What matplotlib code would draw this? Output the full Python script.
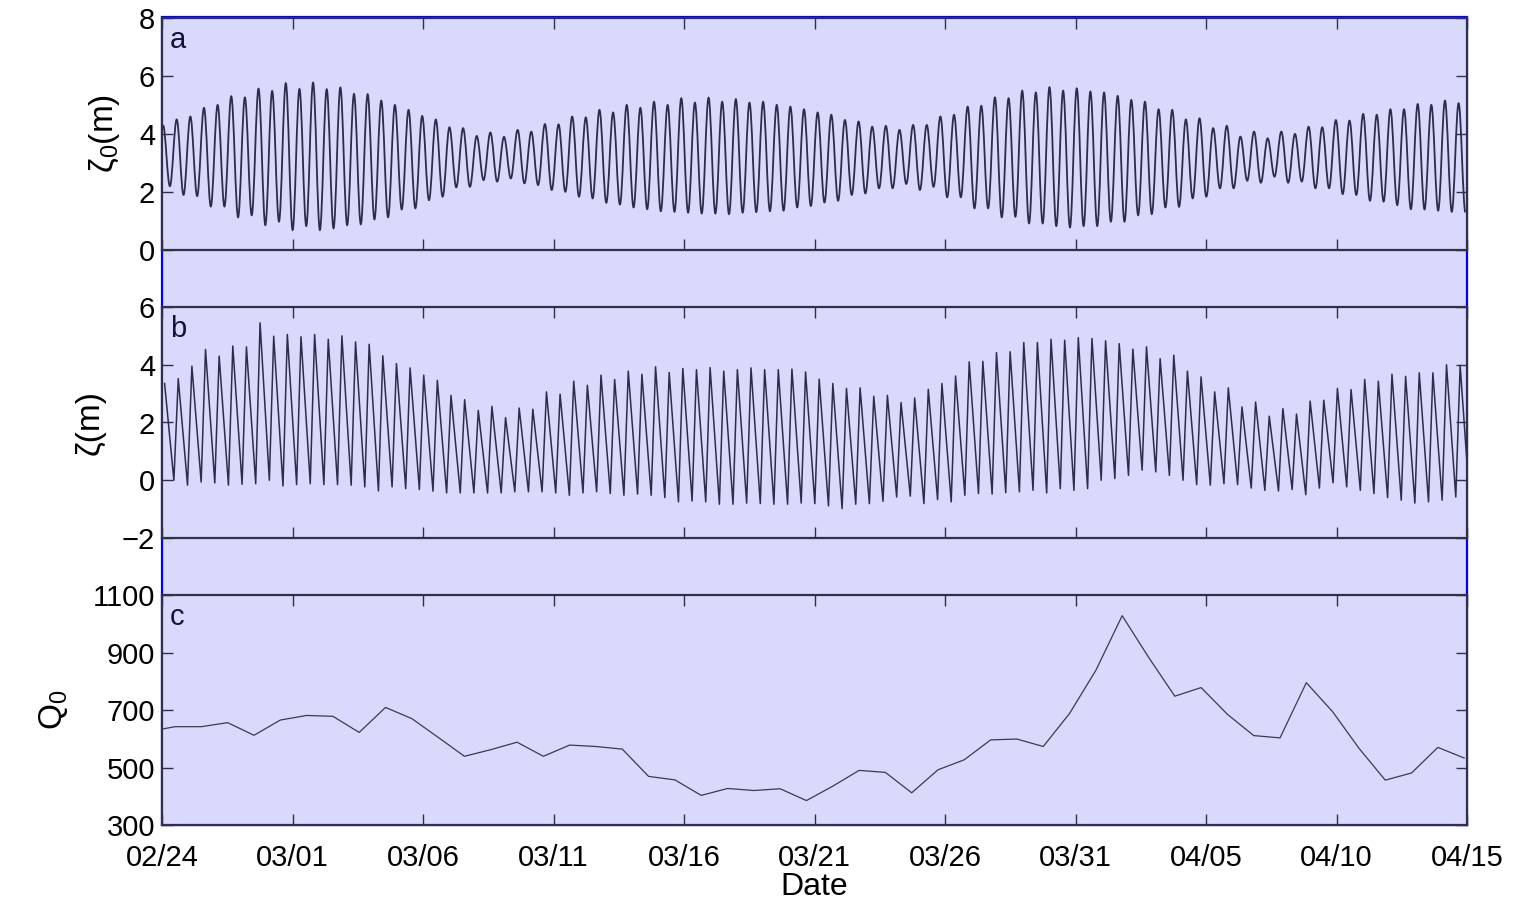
import matplotlib
matplotlib.use('Agg')
import matplotlib.pyplot as plt
from matplotlib.patches import Rectangle, PathPatch
from matplotlib.path import Path
import numpy as np

plt.rcParams['font.family'] = ['Liberation Sans', 'DejaVu Sans']
plt.rcParams['mathtext.fontset'] = 'custom'
plt.rcParams['mathtext.rm'] = 'Liberation Sans'
plt.rcParams['mathtext.it'] = 'Liberation Sans'

# x axis: days since 02/24
date_ticks = [0, 5, 10, 15, 20, 25, 30, 35, 40, 45, 50]
date_labels = ['02/24', '03/01', '03/06', '03/11', '03/16', '03/21',
               '03/26', '03/31', '04/05', '04/10', '04/15']

# tide at the mouth, zeta_0 (m): successive high and low waters
zeta0_high = [4.3,
              4.5, 4.6, 4.9, 5.0, 5.3, 5.26, 5.56, 5.48, 5.75, 5.55, 5.77, 5.54, 5.6, 5.38, 5.37, 5.15,
              5.0, 4.83, 4.62, 4.5, 4.23, 4.2, 3.93, 4.05, 3.9, 4.14, 4.08, 4.34, 4.33, 4.6, 4.57, 4.83,
              4.74, 5.0, 4.9, 5.11, 5.0, 5.23, 5.08, 5.25, 5.11, 5.2, 5.08, 5.11, 5.0, 4.94, 4.85, 4.74,
              4.66, 4.48, 4.43, 4.25, 4.28, 4.14, 4.31, 4.31, 4.6, 4.66, 4.94, 4.97, 5.26, 5.23, 5.49,
              5.43, 5.61, 5.49, 5.57, 5.46, 5.43, 5.31, 5.17, 5.11, 4.85, 4.83, 4.5, 4.54, 4.2, 4.28, 3.91,
              4.08, 3.85, 4.08, 4.0, 4.25, 4.23, 4.48, 4.46, 4.69, 4.66, 4.85, 4.85, 5.03, 5.0, 5.15, 5.06]
zeta0_low = [2.2, 1.9, 1.86, 1.5, 1.5, 1.13, 1.2, 0.86, 0.98, 0.69, 0.83, 0.69, 0.75, 0.86, 0.89, 1.06,
             1.13, 1.4, 1.44, 1.72, 1.84, 2.16, 2.18, 2.41, 2.36, 2.47, 2.3, 2.24, 2.07, 2.01, 1.84, 1.78,
             1.63, 1.57, 1.47, 1.41, 1.34, 1.32, 1.29, 1.26, 1.26, 1.24, 1.29, 1.31, 1.34, 1.36, 1.47, 1.52,
             1.64, 1.7, 1.9, 1.95, 2.13, 2.13, 2.28, 2.07, 2.18, 1.82, 1.82, 1.44, 1.44, 1.13, 1.15, 0.92,
             0.92, 0.83, 0.78, 0.83, 0.83, 0.98, 0.98, 1.2, 1.24, 1.47, 1.49, 1.78, 1.84, 2.13, 2.13, 2.39,
             2.32, 2.53, 2.32, 2.36, 2.13, 2.13, 1.93, 1.9, 1.7, 1.67, 1.55, 1.41, 1.4, 1.36, 1.32, 1.3]

# water level zeta (m) upstream: successive high and low waters
zeta_high = [3.35,
             3.52, 3.95, 4.53, 4.3, 4.65, 4.62, 5.45, 4.99, 5.05, 4.97, 5.05, 4.88, 5.0, 4.79, 4.71, 4.31,
             4.04, 3.89, 3.64, 3.46, 2.94, 2.79, 2.42, 2.56, 2.17, 2.5, 2.46, 3.06, 2.98, 3.43, 3.29,
             3.64, 3.49, 3.78, 3.67, 3.93, 3.73, 3.87, 3.83, 3.9, 3.78, 3.83, 3.89, 3.83, 3.83, 3.85, 3.75,
             3.5, 3.35, 3.18, 3.2, 2.91, 2.94, 2.69, 2.85, 3.15, 3.35, 3.61, 4.1, 4.12, 4.42, 4.45, 4.77,
             4.77, 4.88, 4.85, 4.94, 4.91, 4.83, 4.73, 4.54, 4.62, 4.21, 4.33, 3.78, 3.58, 3.06, 3.2, 2.54,
             2.71, 2.22, 2.48, 2.29, 2.74, 2.77, 3.18, 3.14, 3.49, 3.43, 3.67, 3.6, 3.72, 3.72, 4.0, 3.98]
zeta_low = [0.0,
            -0.17, -0.06, -0.09, -0.17, -0.14, -0.12, 0.0, -0.2, -0.15, -0.12, -0.15, -0.15, -0.17, -0.23,
            -0.37, -0.23, -0.29, -0.32, -0.38, -0.44, -0.44, -0.44, -0.44, -0.44, -0.4, -0.4, -0.4, -0.44,
            -0.52, -0.44, -0.4,
            -0.46, -0.52, -0.48, -0.52, -0.6, -0.75, -0.72, -0.75, -0.83, -0.83, -0.79, -0.81, -0.83, -0.83,
            -0.79, -0.81, -0.89, -0.98, -0.83, -0.81, -0.73, -0.58, -0.55, -0.81, -0.67, -0.75, -0.52, -0.46,
            -0.48, -0.43, -0.4,
            -0.35, -0.44, -0.29, -0.35, -0.29, 0.0, 0.06, 0.17, 0.35, 0.29, 0.17, 0.0, -0.15, -0.17, -0.12,
            -0.15, -0.27, -0.35, -0.37, -0.32, -0.5, -0.27, -0.09, -0.23, -0.35, -0.46, -0.6, -0.69, -0.79,
            -0.75, -0.69, -0.58, -0.6]

# river discharge Q_0, daily values
q0 = [625, 642, 642, 656, 612, 665, 681, 678, 622, 709, 670, 605, 539, 562, 588, 539, 578, 573, 564,
      469, 457, 403, 427, 420, 426, 385, 435, 490, 483, 412, 492, 527, 596, 599, 573, 688, 838, 1028,
      884, 748, 778, 685, 611, 603, 795, 694, 567, 456, 481, 570, 533]

tide_period = 0.5225   # days between high waters
a_first_high = 0.041
b_first_high = 0.10


def tide_series(highs, lows, first, fall_frac):
    n = len(highs)
    t_high = first + tide_period * np.arange(n)
    t_low = t_high + fall_frac * tide_period
    t = np.empty(2 * n)
    v = np.empty(2 * n)
    t[0::2], t[1::2] = t_high, t_low
    v[0::2], v[1::2] = highs, lows
    return t, v


def smooth_path(t, v, handle=0.36):
    # cubic segments with flat tangents at each high/low water
    verts = [(t[0], v[0])]
    codes = [Path.MOVETO]
    for i in range(len(t) - 1):
        dt = t[i + 1] - t[i]
        verts += [(t[i] + handle * dt, v[i]), (t[i + 1] - handle * dt, v[i + 1]), (t[i + 1], v[i + 1])]
        codes += [Path.CURVE4] * 3
    return Path(verts, codes)


ta, va = tide_series(zeta0_high, zeta0_low, a_first_high, 0.5)
tb, vb = tide_series(zeta_high, zeta_low, b_first_high, 0.68)
tq = 0.5 + (np.arange(len(q0)) - 1) * 1.008

lav = '#d9d9fb'
frame = '#30304a'
linec = '#2c2c4c'

fig = plt.figure(figsize=(15.16, 9.05), dpi=100)
W, H = 1516.0, 905.0
fig.patches.append(Rectangle((162 / W, 1 - 825 / H), 1305 / W, 808 / H, transform=fig.transFigure,
                             facecolor=lav, edgecolor='#0000ff', lw=1.6, zorder=-5))


def make_axes(top, bottom):
    ax = fig.add_axes([162 / W, 1 - bottom / H, 1305 / W, (bottom - top) / H])
    ax.set_zorder(2)
    ax.set_facecolor(lav)
    for s in ax.spines.values():
        s.set_color(frame)
        s.set_linewidth(1.6)
    ax.tick_params(direction='in', length=8, width=1.0, color=frame, top=True, right=True,
                   labelsize=21, pad=5)
    ax.set_xlim(0, 50)
    ax.set_xticks(date_ticks)
    return ax


ax1 = make_axes(18, 250)
ax1.add_patch(PathPatch(smooth_path(ta, va), facecolor='none', edgecolor=linec, lw=1.3))
ax1.set_ylim(0, 8)
ax1.set_yticks([0, 2, 4, 6, 8])
ax1.set_xticklabels([])
ax1.set_ylabel('ζ$_0$(m)', fontsize=24, labelpad=12)
ax1.text(0.006, 0.965, 'a', transform=ax1.transAxes, fontsize=21, color='#15153a', va='top')

ax2 = make_axes(307, 538)
ax2.plot(tb, vb, color=linec, lw=1.1)
ax2.set_ylim(-2, 6)
ax2.set_yticks([-2, 0, 2, 4, 6])
ax2.set_xticklabels([])
ax2.set_ylabel('ζ(m)', fontsize=24, labelpad=12)
ax2.text(0.006, 0.965, 'b', transform=ax2.transAxes, fontsize=21, color='#15153a', va='top')

ax3 = make_axes(595, 825)
ax3.plot(tq, q0, color='#3a3a50', lw=0.9)
ax3.set_ylim(300, 1100)
ax3.set_yticks([300, 500, 700, 900, 1100])
ax3.set_xticklabels(date_labels)
ax3.tick_params(axis='x', pad=14)
ax3.set_ylabel('Q$_0$', fontsize=24, labelpad=16)
ax3.set_xlabel('Date', fontsize=23, labelpad=0)
ax3.text(0.006, 0.965, 'c', transform=ax3.transAxes, fontsize=21, color='#15153a', va='top')

fig.align_ylabels([ax1, ax2])
fig.savefig('out.png', dpi=100)
